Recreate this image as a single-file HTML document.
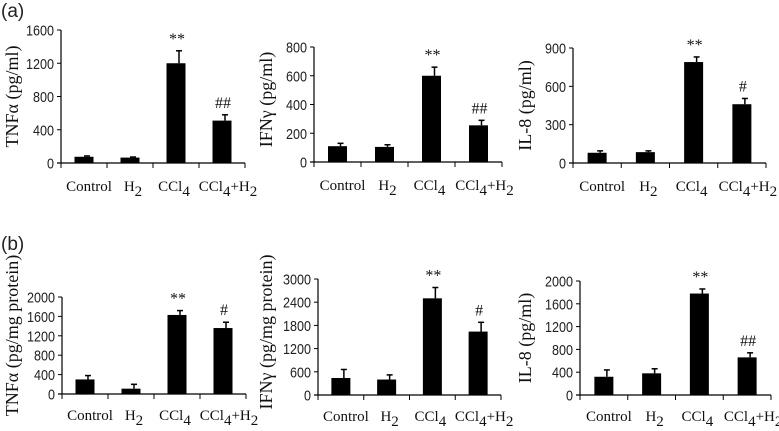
<!DOCTYPE html>
<html><head><meta charset="utf-8"><style>
html,body{margin:0;padding:0;background:#fff;}
svg{display:block;}
.tk{font-family:"Liberation Sans",sans-serif;font-size:15px;fill:#222;}
.sf{font-family:"Liberation Serif",serif;font-size:15px;fill:#111;}
.ttl{font-family:"Liberation Serif",serif;font-size:18px;fill:#111;}
.sig{font-family:"Liberation Serif",serif;font-size:16px;fill:#111;}
</style></head><body>
<svg id="chart" width="779" height="431" viewBox="0 0 779 431" xmlns="http://www.w3.org/2000/svg">
<text x="1" y="17" class="tk" style="font-size:19px">(a)</text>
<text x="1" y="250" class="tk" style="font-size:19px">(b)</text>
</svg>
<script>
const categories = ["Control","H2","CCl4","CCl4+H2"];
const a1Values = [75,65,1200,510];
const a1Errors = [10,7,150,70];
const a1Ticks = [0,400,800,1200,1600];
const a1Sig = ["","","**","##"];
const a2Values = [110,105,600,255];
const a2Errors = [20,15,60,35];
const a2Ticks = [0,200,400,600,800];
const a2Sig = ["","","**","##"];
const a3Values = [80,85,790,460];
const a3Errors = [15,10,40,45];
const a3Ticks = [0,300,600,900];
const a3Sig = ["","","**","#"];
const b1Values = [300,110,1630,1360];
const b1Errors = [80,90,90,120];
const b1Ticks = [0,400,800,1200,1600,2000];
const b1Sig = ["","","**","#"];
const b2Values = [440,400,2500,1640];
const b2Errors = [220,120,280,240];
const b2Ticks = [0,600,1200,1800,2400,3000];
const b2Sig = ["","","**","#"];
const b3Values = [320,380,1780,660];
const b3Errors = [120,80,80,80];
const b3Ticks = [0,400,800,1200,1600,2000];
const b3Sig = ["","","**","##"];

const NS="http://www.w3.org/2000/svg";
const svg=document.getElementById('chart');
const labelShift=[5,3,-2,6];
function mk(tag,attrs,parent){const e=document.createElementNS(NS,tag);for(const k in attrs)e.setAttribute(k,attrs[k]);(parent||svg).appendChild(e);return e;}

function panel(id,cfg,values,errors,ticks,sig){
  const g=mk('g',{});
  
  
  const x0=cfg.x0,x1=cfg.x1,y0=cfg.y0,yt=cfg.yt,max=ticks[ticks.length-1];
  const ys=v=>y0-(v/max)*(y0-yt);
  const bw=(x1-x0)/categories.length;
  const xs=i=>x0+(i+0.5)*bw;
  const ya=mk('line',{x1:x0,y1:y0,x2:x0,y2:yt,stroke:'#000','stroke-width':1.2},g);
  
  
  const xa=mk('line',{x1:x0-4,y1:y0,x2:x1,y2:y0,stroke:'#000','stroke-width':1.2},g);
  
  
  ticks.forEach(t=>{
    const y=ys(t);
    mk('line',{x1:x0-4,y1:y,x2:x0,y2:y,stroke:'#000','stroke-width':1},g);
    const s=String(t);
    const tl=mk('text',{x:x0-7,y:y+5.5,'text-anchor':'end',class:'tk',textLength:s.length*7,lengthAdjust:'spacingAndGlyphs'},g);
    tl.textContent=s;
    
    
  });
  for(let i=0;i<=categories.length;i++){
    const x=x0+i*bw;
    mk('line',{x1:x,y1:y0,x2:x,y2:y0+5,stroke:'#000','stroke-width':1},g);
  }
  categories.forEach((c,i)=>{
    const x=xs(i),v=values[i],e=errors[i];
    const top=ys(v),et=ys(v+e);
    const eb=mk('line',{x1:x+3,y1:top,x2:x+3,y2:et,stroke:'#000','stroke-width':1.5},g);
    
    
    mk('line',{x1:x,y1:et,x2:x+6,y2:et,stroke:'#000','stroke-width':1.5},g);
    const r=mk('rect',{x:x-9.5,y:top,width:19,height:y0-top,fill:'#000'},g);
    
    
    if(sig[i]){
      const s=mk('text',{x:x+1,y:et-7,'text-anchor':'middle',class:'sig'},g);
      s.textContent=sig[i];
      
      
    }
    const lab=mk('text',{x:x+labelShift[i],y:y0+cfg.labDy,'text-anchor':'middle',class:'sf'},g);
    
    
    const m=c.match(/^([A-Za-z]+?)(\d)(\+H)?(\d)?$/);
    if(m){
      const t1=mk('tspan',{},lab);t1.textContent=m[1];
      const s1=mk('tspan',{dy:5},lab);s1.textContent=m[2];
      if(m[3]){const t2=mk('tspan',{dy:-5},lab);t2.textContent=m[3];
        const s2=mk('tspan',{dy:5},lab);s2.textContent=m[4];}
    } else lab.textContent=c;
  });
  const cy=(y0+yt)/2+cfg.tdy;
  const ttl=mk('text',{x:cfg.tx,y:cy,'text-anchor':'middle',class:'ttl',transform:'rotate(-90 '+cfg.tx+' '+cy+')'},g);
  ttl.textContent=cfg.title;
  
  
}
panel('a1',{x0:61,x1:245,y0:163,yt:30,labDy:28,tx:18,tdy:0,title:'TNF\u03b1 (pg/ml)'},a1Values,a1Errors,a1Ticks,a1Sig);
panel('a2',{x0:314,x1:502,y0:162,yt:47,labDy:28,tx:272,tdy:-5,title:'IFN\u03b3 (pg/ml)'},a2Values,a2Errors,a2Ticks,a2Sig);
panel('a3',{x0:573,x1:766,y0:163,yt:48,labDy:28,tx:531,tdy:0,title:'IL-8 (pg/ml)'},a3Values,a3Errors,a3Ticks,a3Sig);
panel('b1',{x0:62,x1:246,y0:394,yt:297,labDy:26,tx:18,tdy:-10,title:'TNF\u03b1 (pg/mg protein)'},b1Values,b1Errors,b1Ticks,b1Sig);
panel('b2',{x0:318,x1:501,y0:395,yt:279,labDy:26,tx:272,tdy:-5,title:'IFN\u03b3 (pg/mg protein)'},b2Values,b2Errors,b2Ticks,b2Sig);
panel('b3',{x0:580,x1:771,y0:395,yt:281,labDy:26,tx:531,tdy:0,title:'IL-8 (pg/ml)'},b3Values,b3Errors,b3Ticks,b3Sig);
</script>
</body></html>
